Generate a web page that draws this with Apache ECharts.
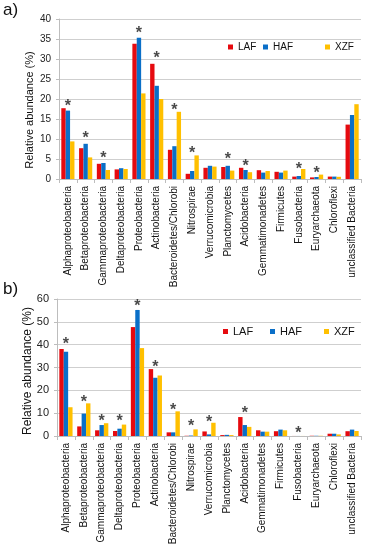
<!DOCTYPE html>
<html>
<head>
<meta charset="utf-8">
<script src="https://cdn.jsdelivr.net/npm/echarts@6/dist/echarts.min.js"></script>
<style>
html,body{margin:0;padding:0;background:#fff;}
#c{width:365px;height:550px;}
</style>
</head>
<body>
<div id="c"></div>
<script>
var categories = ['Alphaproteobacteria','Betaproteobacteria','Gammaproteobacteria','Deltaproteobacteria','Proteobacteria','Actinobacteria','Bacteroidetes/Chlorobi','Nitrospirae','Verrucomicrobia','Planctomycetes','Acidobacteria','Gemmatimonadetes','Firmicutes','Fusobacteria','Euryarchaeota','Chloroflexi','unclassified Bacteria'];

// Panel a
var lafA = [17.7, 7.7, 3.8, 2.4, 33.8, 28.8, 7.3, 1.3, 2.8, 3.0, 2.8, 2.2, 1.8, 0.6, 0.4, 0.6, 13.6];
var hafA = [17.1, 8.8, 4.0, 2.7, 35.3, 23.3, 8.2, 2.0, 3.3, 3.3, 2.25, 1.6, 1.6, 0.75, 0.5, 0.6, 16.0];
var xzfA = [9.4, 5.4, 2.25, 2.5, 21.4, 20.0, 16.8, 5.9, 3.1, 2.1, 1.7, 2.0, 2.1, 2.5, 1.1, 0.55, 18.7];
var starA = [19.0, 11.0, 6.0, null, 37.3, 31.2, 18.0, 7.3, null, 5.9, 4.0, null, null, 3.3, 2.3, null, null];

// Panel b
var lafB = [38.1, 4.2, 2.5, 2.2, 47.7, 29.3, 1.6, 0.1, 2.0, 0.4, 8.3, 2.5, 2.1, 0.02, 0.1, 1.0, 2.1];
var hafB = [36.9, 9.8, 4.8, 3.2, 55.2, 25.5, 1.6, 0.2, 0.7, 0.5, 4.8, 1.9, 2.8, 0.02, 0.1, 1.0, 2.8];
var xzfB = [12.6, 14.3, 5.6, 5.0, 38.5, 26.5, 10.8, 2.9, 5.8, 0.4, 4.0, 1.9, 2.5, 0.02, 0.1, 0.7, 2.2];
var starB = [41.7, 16.5, 8.0, 8.0, 58.4, 31.8, 12.9, 5.7, 7.6, null, 11.4, null, null, 2.8, null, null, null];

var seriesNames = ['LAF', 'HAF', 'XZF'];
var colors = ['#E60A0F', '#0A6FC8', '#FFC000'];

var FONT = 'Liberation Sans';

function barSeries(name, data, idx, color) {
  return {
    name: name, type: 'bar', data: data,
    xAxisIndex: idx, yAxisIndex: idx,
    barGap: '0%', barCategoryGap: '26%',
    itemStyle: {color: color},
    silent: true, animation: false
  };
}
function starSeries(data, idx) {
  return {
    type: 'scatter', data: data,
    xAxisIndex: idx, yAxisIndex: idx,
    symbol: 'circle', symbolSize: 1,
    itemStyle: {color: 'rgba(0,0,0,0)'},
    label: {show: true, position: 'inside', formatter: '*', fontSize: 16, fontWeight: 'bold', color: '#1a1a1a', fontFamily: FONT, offset: [0, 4]},
    silent: true, animation: false, z: 5
  };
}
function xAxis(idx, fs) {
  return {
    type: 'category', gridIndex: idx, data: categories,
    axisLine: {lineStyle: {color: '#BDBDBD', width: 1}},
    axisTick: {show: true, length: 4, lineStyle: {color: '#BDBDBD'}},
    axisLabel: {rotate: 90, interval: 0, fontSize: fs, color: '#111', fontFamily: FONT, margin: 7, hideOverlap: false}
  };
}
function yAxis(idx, max, interval, fs) {
  return {
    type: 'value', gridIndex: idx, min: 0, max: max, interval: interval,
    axisLine: {show: true, lineStyle: {color: '#BDBDBD', width: 1}},
    axisTick: {show: true, length: 3, lineStyle: {color: '#BDBDBD'}},
    splitLine: {lineStyle: {color: '#CFCFCF', width: 1}},
    axisLabel: {fontSize: fs, color: '#222', fontFamily: FONT, margin: 8}
  };
}
function legend(name, left, top, fs) {
  return {
    data: [name], left: left, top: top, icon: 'rect',
    itemWidth: 5, itemHeight: 5, itemGap: 5, padding: 0,
    textStyle: {fontSize: fs, color: '#111', fontFamily: FONT},
    selectedMode: false
  };
}

var chart = echarts.init(document.getElementById('c'), null, {renderer: 'canvas'});
chart.setOption({
  animation: false,
  backgroundColor: '#fff',
  grid: [
    {left: 59, top: 19, width: 302, height: 160},
    {left: 57, top: 299, width: 304, height: 137}
  ],
  xAxis: [xAxis(0, 10), xAxis(1, 10)],
  yAxis: [yAxis(0, 40, 5, 10), yAxis(1, 60, 10, 11)],
  legend: [
    legend('LAF', 228, 42, 10), legend('HAF', 263, 42, 10), legend('XZF', 325, 42, 10),
    legend('LAF', 223, 326, 11), legend('HAF', 270, 326, 11), legend('XZF', 324, 326, 11)
  ],
  graphic: [
    {type: 'text', left: 3, top: 2, style: {text: 'a)', fontSize: 17, fill: '#111', fontFamily: FONT}},
    {type: 'text', left: 3, top: 281, style: {text: 'b)', fontSize: 17, fill: '#111', fontFamily: FONT}},
    {type: 'text', x: 30, y: 110, rotation: Math.PI / 2, style: {text: 'Relative abundance (%)', fontSize: 11, fill: '#111', fontFamily: FONT, textAlign: 'center', textVerticalAlign: 'middle'}},
    {type: 'text', x: 28, y: 371, rotation: Math.PI / 2, style: {text: 'Relative abundance (%)', fontSize: 12, fill: '#111', fontFamily: FONT, textAlign: 'center', textVerticalAlign: 'middle'}}
  ],
  series: [
    barSeries(seriesNames[0], lafA, 0, colors[0]),
    barSeries(seriesNames[1], hafA, 0, colors[1]),
    barSeries(seriesNames[2], xzfA, 0, colors[2]),
    starSeries(starA, 0),
    barSeries(seriesNames[0], lafB, 1, colors[0]),
    barSeries(seriesNames[1], hafB, 1, colors[1]),
    barSeries(seriesNames[2], xzfB, 1, colors[2]),
    starSeries(starB, 1)
  ]
});
</script>
</body>
</html>
